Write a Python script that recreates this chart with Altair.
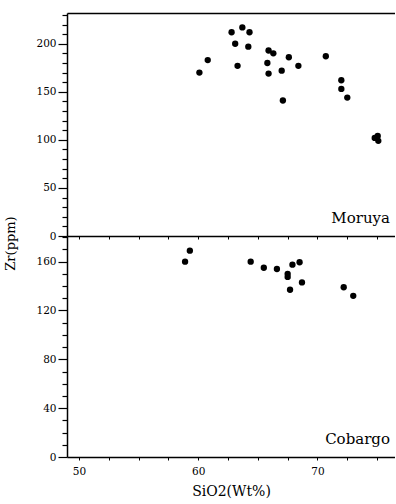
import altair as alt
import pandas as pd

# Moruya suite: SiO2 (wt%) vs Zr (ppm)
moruya_sio2 = [60.1, 60.8, 62.8, 63.7, 64.3, 63.1, 64.2, 63.3, 65.9, 66.3, 65.8, 65.9,
               67.0, 67.6, 68.4, 67.1, 70.7, 72.0, 72.0, 72.5, 74.8, 75.05, 75.1]
moruya_zr = [170, 183, 212, 217, 212, 200, 197, 177, 193, 190, 180, 169,
             172, 186, 177, 141, 187, 162, 153, 144, 102, 104, 99]

# Cobargo suite
cobargo_sio2 = [58.9, 59.3, 64.4, 65.5, 66.6, 67.5, 67.5, 67.9, 68.5, 67.7, 68.7, 72.2, 73.0]
cobargo_zr = [160, 169, 160, 155, 154, 150, 147.5, 157.5, 159.5, 137, 143, 139, 132]

x_ticks = [50 + 2.5 * i for i in range(11)]
top_y_ticks = list(range(0, 240, 10))
bottom_y_ticks = list(range(0, 190, 10))

FONT = "DejaVu Serif"
W = 328
H_TOP = 223
H_BOT = 221
X_DOMAIN = [49, 76.5]

moruya = pd.DataFrame({"sio2": moruya_sio2, "zr": moruya_zr})
cobargo = pd.DataFrame({"sio2": cobargo_sio2, "zr": cobargo_zr})


def x_axis(show_labels):
    return alt.Axis(
        values=x_ticks, grid=False, tickSize=3, tickColor="black", tickWidth=1,
        domainColor="black", domainWidth=1.5,
        labels=show_labels, labelOverlap=False,
        labelExpr="datum.value % 10 === 0 ? datum.label : ''",
        labelFont=FONT, labelFontSize=10.5, labelColor="black", labelPadding=6,
        title="SiO2(Wt%)" if show_labels else None,
        titleFont=FONT, titleFontSize=14, titleFontWeight="normal",
        titleColor="black", titlePadding=8,
    )


def y_axis(values, major, title=None):
    if title:
        kw = dict(title=title, titleFont=FONT, titleFontSize=13, titleFontWeight="normal",
                  titleColor="black", titleX=-57, titleY=230, titleAngle=270,
                  titleAlign="center", titleBaseline="middle")
    else:
        kw = dict(title=None)
    return alt.Axis(
        values=values, grid=False,
        tickSize={"condition": {"test": f"datum.value % {major} === 0", "value": 9}, "value": 5},
        tickColor="black", tickWidth=1.2,
        domainColor="black", domainWidth=1.5,
        labelOverlap=False,
        labelExpr=f"datum.value % {major} === 0 ? datum.label : ''",
        labelFont=FONT, labelFontSize=10.5, labelColor="black", labelPadding=2,
        **kw,
    )


def panel(df, name, y_domain, y_values, major, height, show_x_labels, y_title=None):
    base = alt.Chart(df)
    y_enc = alt.Y("zr:Q", scale=alt.Scale(domain=y_domain, nice=False),
                  axis=y_axis(y_values, major, y_title))
    pts = base.mark_circle(size=40, color="black", opacity=1).encode(
        x=alt.X("sio2:Q", scale=alt.Scale(domain=X_DOMAIN, nice=False, zero=False),
                axis=x_axis(show_x_labels)),
        y=y_enc,
    )
    layers = [pts]
    if y_title:
        # frame line along the top of the upper panel
        frame = base.mark_circle(opacity=0).encode(
            x=alt.X("sio2:Q", axis=alt.Axis(orient="top", ticks=False, labels=False,
                                            title=None, domainColor="black",
                                            domainWidth=1.5, grid=False)),
            y=y_enc,
        )
        layers.append(frame)
    label = alt.Chart(pd.DataFrame({"name": [name]})).mark_text(
        font=FONT, fontSize=15, color="black", align="right", baseline="alphabetic"
    ).encode(x=alt.value(W - 5), y=alt.value(height - 13), text="name:N")
    layers.append(label)
    return alt.layer(*layers).resolve_axis(x="independent").properties(width=W, height=height)


top = panel(moruya, "Moruya", [0, 232], top_y_ticks, 50, H_TOP, False, y_title="Zr(ppm)")
bottom = panel(cobargo, "Cobargo", [0, 181], bottom_y_ticks, 40, H_BOT, True)

chart = alt.vconcat(top, bottom, spacing=0, bounds="flush").configure_view(
    stroke=None
).properties(
    padding={"top": 9, "left": 4, "right": 0, "bottom": 0},
    background="white",
)

chart.save("out.html", embed_options={"renderer": "svg", "actions": False})
